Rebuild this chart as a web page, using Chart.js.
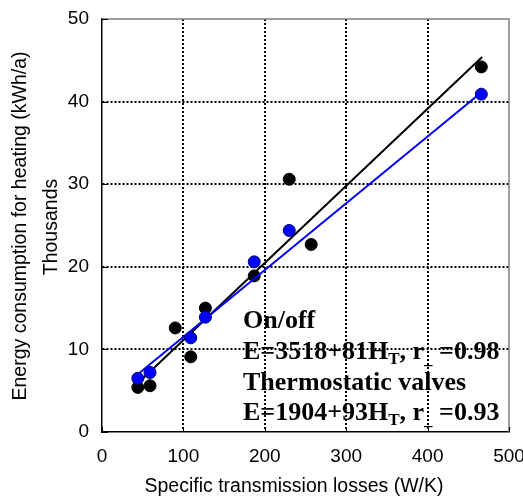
<!DOCTYPE html>
<html>
<head>
<meta charset="utf-8">
<script src="https://cdn.jsdelivr.net/npm/chart.js@4.4.0/dist/chart.umd.min.js"></script>
<style>
  html, body { margin: 0; padding: 0; background: #fff; }
  #wrap { width: 523px; height: 497px; }
</style>
</head>
<body>
<div id="wrap"><canvas id="heatChart" width="523" height="497"></canvas></div>
<script>
// measured points (x = W/K, y = thousand kWh/a)
const onOffX = [44, 59, 90, 109, 127, 187, 230, 257, 466];
const onOffY = [5.4, 5.6, 12.6, 9.1, 15.0, 18.9, 30.6, 22.7, 44.2];
const thermoX = [44, 59, 109, 127, 187, 230, 466];
const thermoY = [6.5, 7.2, 11.4, 13.9, 20.6, 24.4, 40.9];

// trend lines, end points
const fitX = [44, 467];
const blackFitY = [5.9, 45.4];
const blueFitY = [7.0, 41.2];

const xTicks = [0, 100, 200, 300, 400, 500];
const yTicks = [0, 10, 20, 30, 40, 50];

const xTitle = 'Specific transmission losses (W/K)';
const yTitle = 'Energy consumption for heating (kWh/a)';
const yTitle2 = 'Thousands';

const pts = (xs, ys) => xs.map((x, i) => ({ x, y: ys[i] }));

const SANS = "'Liberation Sans', Arial, sans-serif";
const SERIF = "'Liberation Serif', 'Times New Roman', serif";

const hideEdge = (max) => (c) => (c.tick && (c.tick.value === 0 || c.tick.value === max)) ? 'rgba(0,0,0,0)' : '#000';

const frame = {
  id: 'frame',
  beforeDatasetsDraw(chart) {
    const { ctx, chartArea: a, scales: { x, y } } = chart;
    ctx.save();
    // grey top / right edge of plot box
    ctx.strokeStyle = '#808080';
    ctx.lineWidth = 1.5;
    ctx.beginPath();
    ctx.moveTo(a.left, a.top);
    ctx.lineTo(a.right, a.top);
    ctx.lineTo(a.right, a.bottom);
    ctx.stroke();
    // inward tick marks
    ctx.strokeStyle = '#000';
    ctx.lineWidth = 1;
    ctx.beginPath();
    yTicks.forEach(v => {
      const py = Math.round(y.getPixelForValue(v)) + 0.5;
      ctx.moveTo(a.left, py); ctx.lineTo(a.left + 6, py);
    });
    xTicks.forEach(v => {
      const px = Math.round(x.getPixelForValue(v)) + 0.5;
      ctx.moveTo(px, a.bottom); ctx.lineTo(px, a.bottom - 5);
    });
    ctx.stroke();
    ctx.restore();
  },
  afterDraw(chart) {
    const { ctx } = chart;
    ctx.save();
    ctx.fillStyle = '#000';
    ctx.font = '19.5px ' + SANS;
    ctx.textAlign = 'center';
    ctx.textBaseline = 'alphabetic';
    ctx.fillText(xTitle, 294, 492);
    ctx.textBaseline = 'middle';
    ctx.translate(21, 226);
    ctx.rotate(-Math.PI / 2);
    ctx.fillText(yTitle, 0, 0);
    ctx.restore();

    ctx.save();
    ctx.fillStyle = '#000';
    ctx.font = '19.5px ' + SANS;
    ctx.textAlign = 'center';
    ctx.textBaseline = 'middle';
    ctx.translate(52, 227);
    ctx.rotate(-Math.PI / 2);
    ctx.fillText(yTitle2, 0, 0);
    ctx.restore();

    // equations
    ctx.save();
    ctx.fillStyle = '#000';
    ctx.textAlign = 'left';
    ctx.textBaseline = 'alphabetic';
    const big = 'bold 26px ' + SERIF;
    const small = 'bold 17px ' + SERIF;
    const run = (parts, x0, base) => {
      let xx = x0;
      parts.forEach(([t, sub]) => {
        ctx.font = sub ? small : big;
        ctx.fillText(t, xx, base + (sub ? 5 : 0));
        xx += ctx.measureText(t).width;
      });
    };
    run([['On/off']], 243, 328);
    run([['E=3518+81H'], ['T', 1], [', r'], ['_', 1], [' =0.98']], 243, 359);
    run([['Thermostatic valves']], 243, 390);
    run([['E=1904+93H'], ['T', 1], [', r'], ['_', 1], [' =0.93']], 243, 420);
    ctx.restore();
  }
};

new Chart(document.getElementById('heatChart'), {
  type: 'scatter',
  data: {
    datasets: [
      {
        label: 'Thermostatic valves',
        data: pts(thermoX, thermoY),
        backgroundColor: '#0000ff',
        borderColor: '#00007a',
        borderWidth: 1,
        pointRadius: 6
      },
      {
        label: 'blue fit',
        data: pts(fitX, blueFitY),
        showLine: true,
        borderColor: '#0000ff',
        borderWidth: 2,
        pointRadius: 0
      },
      {
        label: 'black fit',
        data: pts(fitX, blackFitY),
        showLine: true,
        borderColor: '#000',
        borderWidth: 2,
        pointRadius: 0
      },
      {
        label: 'On/off',
        data: pts(onOffX, onOffY),
        backgroundColor: '#000',
        borderColor: '#000',
        borderWidth: 1,
        pointRadius: 6
      }
    ]
  },
  options: {
    responsive: false,
    animation: false,
    layout: { padding: { top: 19, right: 14, left: 0, bottom: 0 } },
    plugins: { legend: { display: false }, tooltip: { enabled: false } },
    scales: {
      x: {
        type: 'linear', min: 0, max: 500,
        afterBuildTicks: s => { s.ticks = xTicks.map(v => ({ value: v })); },
        afterFit: s => { s.height = 65; s.paddingLeft = 0; s.paddingRight = 0; },
        ticks: { color: '#000', font: { family: SANS, size: 19 }, padding: 13, maxRotation: 0 },
        grid: { color: hideEdge(500), lineWidth: 2, drawTicks: false },
        border: { display: true, color: '#000', width: 1.5, dash: [2, 2] }
      },
      y: {
        type: 'linear', min: 0, max: 50,
        afterBuildTicks: s => { s.ticks = yTicks.map(v => ({ value: v })); },
        afterFit: s => { s.width = 102; s.paddingTop = 0; s.paddingBottom = 0; },
        ticks: { color: '#000', font: { family: SANS, size: 19 }, padding: 13 },
        grid: { color: hideEdge(50), lineWidth: 2, drawTicks: false },
        border: { display: true, color: '#000', width: 1.5, dash: [2, 2] }
      }
    }
  },
  plugins: [frame]
});
</script>
</body>
</html>
